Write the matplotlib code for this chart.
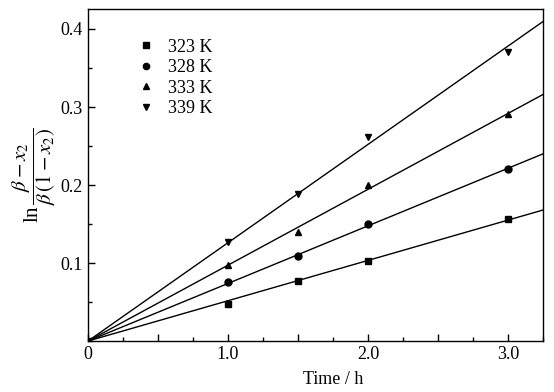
import numpy as np
import matplotlib
matplotlib.use('Agg')
from matplotlib import pyplot as plt
from matplotlib.ticker import MultipleLocator

plt.rcParams['font.family'] = ['Liberation Serif', 'DejaVu Serif']
plt.rcParams['mathtext.fontset'] = 'stix'

# data
time_h = [0, 1.0, 1.5, 2.0, 3.0]
temps = ['323 K', '328 K', '333 K', '339 K']
markers = ['s', 'o', '^', 'v']
y323 = [0, 0.047, 0.077, 0.103, 0.157]
y328 = [0, 0.076, 0.109, 0.150, 0.220]
y333 = [0, 0.097, 0.140, 0.200, 0.291]
y339 = [0, 0.127, 0.189, 0.262, 0.371]
series = [y323, y328, y333, y339]

fig = plt.figure(figsize=(5.54, 3.92), dpi=100)
ax = fig.add_axes([0.1588, 0.130, 0.8212, 0.847])

x = np.array(time_h)
xfit = np.array([0, 3.25])
for ys, m, lab in zip(series, markers, temps):
    ys = np.array(ys)
    k = np.sum(x * ys) / np.sum(x * x)  # fit through origin
    ax.plot(xfit, k * xfit, color='black', lw=1.0)
    ax.plot(x[1:], ys[1:], ls='none', marker=m, color='black', ms=5, label=lab)
ax.plot([0], [0], ls='none', marker='s', color='black', ms=5)

ax.set_xlim(0, 3.25)
ax.set_ylim(0, 0.4256)
ax.xaxis.set_minor_locator(MultipleLocator(0.25))
ax.set_xticks([0, 0.5, 1.0, 1.5, 2.0, 2.5, 3.0])
ax.set_xticklabels(['0', '', '1.0', '', '2.0', '', '3.0'])
ax.yaxis.set_minor_locator(MultipleLocator(0.05))
ax.set_yticks([0.1, 0.2, 0.3, 0.4])
ax.set_yticklabels(['0.1', '0.2', '0.3', '0.4'])
ax.tick_params(which='both', direction='in', labelsize=13, width=1)
ax.tick_params(which='major', length=5)
ax.tick_params(which='minor', length=3)
for s in ax.spines.values():
    s.set_linewidth(1.0)

ax.set_xlabel('Time / h', fontsize=13)
ax.xaxis.set_label_coords(0.538, -0.09)
ax.set_ylabel(r'ln$\,\dfrac{\beta - x_2}{\beta\,(1 - x_2)}$', fontsize=15, labelpad=2)

ax.legend(loc='upper left', bbox_to_anchor=(0.08, 0.96), frameon=False,
          fontsize=13, handlelength=0.6, handletextpad=0.9, labelspacing=0.2,
          markerscale=0.9)

fig.savefig('out.png', dpi=100)
